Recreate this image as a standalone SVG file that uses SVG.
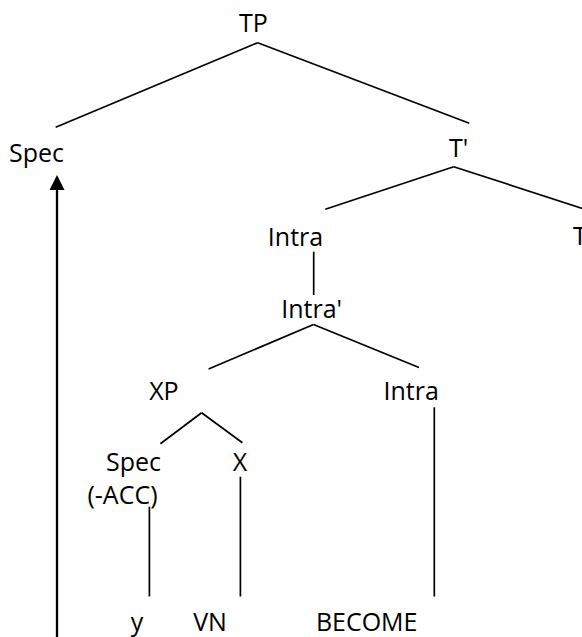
<svg xmlns="http://www.w3.org/2000/svg" width="582" height="637" viewBox="0 0 582 637">
<style>
  .lbl { font-family: "Open Sans", "Liberation Sans", sans-serif; font-size: 25px; fill: #000; text-anchor: middle; }
  .edge { stroke: #000; stroke-width: 1.7; fill: none; }
  .arrow { stroke: #000; stroke-width: 2.3; fill: none; }
</style>
<defs>
  <marker id="ah" markerUnits="userSpaceOnUse" markerWidth="15" markerHeight="15" refX="0" refY="7.5" orient="auto">
    <path d="M0,0 L15,7.5 L0,15 Z" fill="#000"/>
  </marker>
</defs>
<rect width="582" height="637" fill="#fff"/>
<g id="connectors">
  <line class="edge" x1="257.7" y1="42.7" x2="55.7" y2="127.3"/>
  <line class="edge" x1="257.7" y1="42.7" x2="469.3" y2="123.3"/>
  <line class="edge" x1="453.7" y1="166.7" x2="325.3" y2="209.3"/>
  <line class="edge" x1="453.7" y1="166.7" x2="590" y2="210.9"/>
  <line class="edge" x1="313.7" y1="251.7" x2="313.7" y2="295"/>
  <line class="edge" x1="313.5" y1="324.5" x2="208.6" y2="369"/>
  <line class="edge" x1="313.5" y1="324.5" x2="419" y2="367.5"/>
  <line class="edge" x1="201.6" y1="412.7" x2="160.4" y2="443.7"/>
  <line class="edge" x1="201.6" y1="412.7" x2="242.4" y2="442.7"/>
  <line class="edge" x1="149.4" y1="506.7" x2="149.4" y2="596.5"/>
  <line class="edge" x1="240.4" y1="476.7" x2="240.4" y2="596.5"/>
  <line class="edge" x1="434.3" y1="407.3" x2="434.3" y2="596.5"/>
  <line class="arrow" x1="57" y1="640" x2="57" y2="190" marker-end="url(#ah)"/>
</g>
<g id="node-TP"><text class="lbl" x="253.5" y="31.7">TP</text></g>
<g id="node-Spec-top"><text class="lbl" x="36.5" y="161.5">Spec</text></g>
<g id="node-Tbar"><text class="lbl" x="458.7" y="156.7">T'</text></g>
<g id="node-T"><text class="lbl" x="573" y="244.5" style="text-anchor:start">T</text></g>
<g id="node-Intra-top"><text class="lbl" x="295.5" y="246">Intra</text></g>
<g id="node-Intrabar"><text class="lbl" x="311.7" y="318.3">Intra'</text></g>
<g id="node-XP"><text class="lbl" x="163.9" y="400">XP</text></g>
<g id="node-Intra-low"><text class="lbl" x="411.2" y="400">Intra</text></g>
<g id="node-Spec-low"><text class="lbl" x="133.5" y="471">Spec</text><text class="lbl" x="122.5" y="504">(-ACC)</text></g>
<g id="node-X"><text class="lbl" x="240" y="471">X</text></g>
<g id="node-y"><text class="lbl" x="137" y="631">y</text></g>
<g id="node-VN"><text class="lbl" x="210" y="631">VN</text></g>
<g id="node-BECOME"><text class="lbl" x="366.7" y="631">BECOME</text></g>
</svg>
